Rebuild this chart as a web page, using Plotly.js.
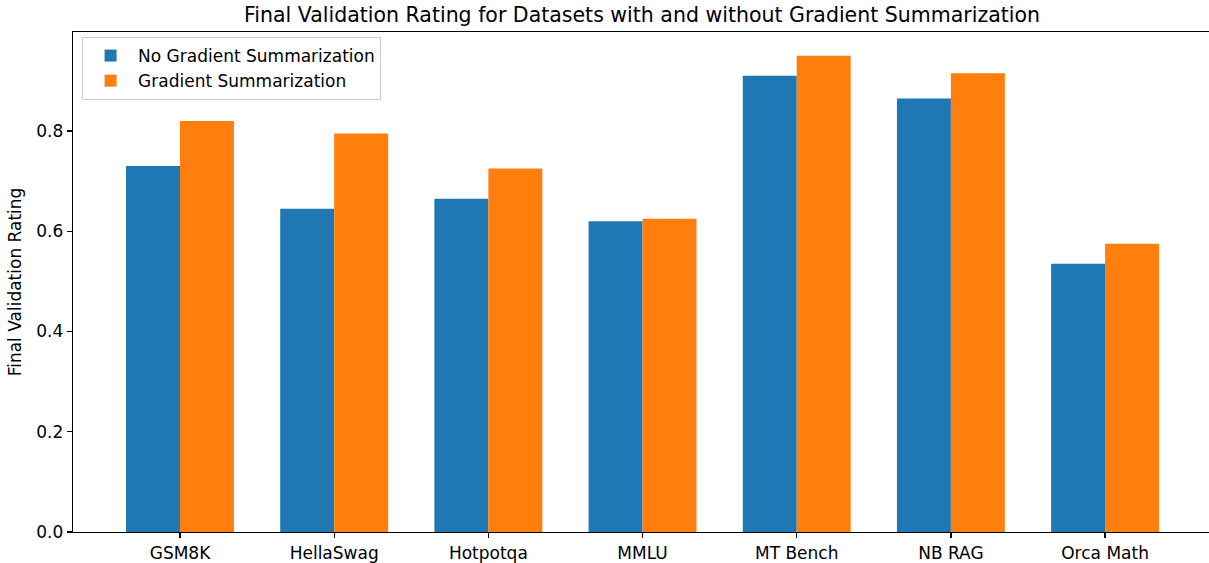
<!DOCTYPE html>
<html>
<head>
<meta charset="utf-8">
<script src="https://cdn.plot.ly/plotly-3.0.1.min.js"></script>
<style>html,body{margin:0;padding:0;overflow:hidden;background:#fff}</style>
</head>
<body>
<div id="chart" style="width:1209px;height:563px"></div>
<script>
const categories = ["GSM8K", "HellaSwag", "Hotpotqa", "MMLU", "MT Bench", "NB RAG", "Orca Math"];
const noGradient = [0.73, 0.645, 0.665, 0.62, 0.91, 0.865, 0.535];
const withGradient = [0.82, 0.795, 0.725, 0.625, 0.95, 0.915, 0.575];
const yTicks = [0.0, 0.2, 0.4, 0.6, 0.8];
const yTickLabels = ["0.0", "0.2", "0.4", "0.6", "0.8"];

const font = "DejaVu Sans, sans-serif";
const xIdx = categories.map((c, i) => i);

const traces = [
  {type: "bar", name: "No Gradient Summarization", x: xIdx, y: noGradient,
   marker: {color: "#1f77b4", line: {width: 0}}},
  {type: "bar", name: "Gradient Summarization", x: xIdx, y: withGradient,
   marker: {color: "#ff7f0e", line: {width: 0}}}
];

const layout = {
  width: 1209, height: 563,
  margin: {l: 73, r: 0, t: 32, b: 31, pad: 0},
  paper_bgcolor: "#fff", plot_bgcolor: "#fff",
  font: {family: font, size: 17, color: "#000"},
  title: {text: "Final Validation Rating for Datasets with and without Gradient Summarization",
          font: {family: font, size: 20.5, color: "#000"},
          x: 642 / 1209, xanchor: "center", y: 0.973, yanchor: "middle"},
  barmode: "group", bargap: 0.3, bargroupgap: 0,
  xaxis: {
    range: [-0.694, 6.674], tickvals: xIdx, ticktext: categories,
    showgrid: false, zeroline: false,
    showline: true, mirror: true, linecolor: "#000", linewidth: 1.3,
    ticks: "outside", ticklen: 5, tickwidth: 1.3, tickcolor: "#000",
    tickfont: {family: font, size: 17, color: "#000"}
  },
  yaxis: {
    range: [0, 0.9975], tickvals: yTicks, ticktext: yTickLabels,
    showgrid: false, zeroline: false,
    showline: true, linecolor: "#000", linewidth: 1.3,
    ticks: "outside", ticklen: 5, tickwidth: 1.3, tickcolor: "#000",
    tickfont: {family: font, size: 17, color: "#000"},
    title: {text: "Final Validation Rating", font: {family: font, size: 17, color: "#000"}, standoff: 10}
  },
  showlegend: true,
  legend: {x: 0.008, y: 0.99, xanchor: "left", yanchor: "top",
           bgcolor: "rgba(255,255,255,0.8)", bordercolor: "#cccccc", borderwidth: 1,
           font: {family: font, size: 17, color: "#000"}, tracegroupgap: 0, itemwidth: 45}
};

Plotly.newPlot("chart", traces, layout, {displayModeBar: false, staticPlot: true});
</script>
</body>
</html>
